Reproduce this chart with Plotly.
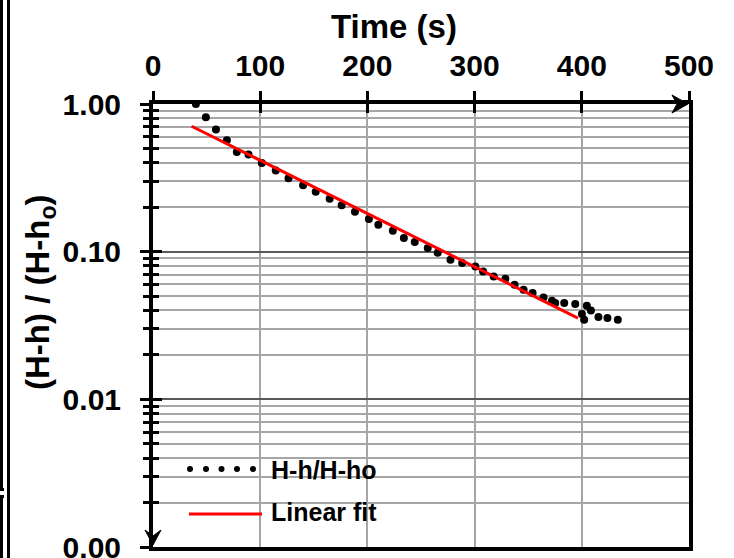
import plotly.graph_objects as go

# ---------------- data ----------------
time_s = [40, 49.3, 58.7, 68.9, 78.2, 89.1, 101.5, 114.5, 126.4, 140, 151.8,
          164.8, 176, 188.4, 201.4, 210.2, 223.7, 234, 244.2, 256.3, 265.6,
          277.5, 288.4, 300.7, 307.9, 317.8, 328.7, 337.3, 345.7, 354.1,
          364.3, 372.2, 375.2, 383.6, 393.9, 400.1, 402.2, 404.7, 408.5,
          415.5, 423.9, 433.6]
head_ratio = [1.0, 0.814, 0.672, 0.568, 0.474, 0.455, 0.399, 0.354, 0.314,
              0.2815, 0.255, 0.228, 0.206, 0.1867, 0.1666, 0.1524, 0.1388,
              0.1238, 0.1163, 0.106, 0.0985, 0.0883, 0.0838, 0.0795, 0.0735,
              0.068, 0.0656, 0.0597, 0.0553, 0.0525, 0.049, 0.0465, 0.0449,
              0.0449, 0.0442, 0.0378, 0.0346, 0.043, 0.04, 0.0361, 0.0355,
              0.0346]
fit_time = [36, 396.4]
fit_ratio = [0.707, 0.0355]

x_tickvals = [0, 100, 200, 300, 400, 500]
y_tickvals = [1, 0.1, 0.01, 0.001]
y_ticktext = ["1.00", "0.10", "0.01", "0.00"]
y_minorvals = [m * 10.0 ** e for e in (-3, -2, -1) for m in range(2, 10)]

series_name = "H-h/H-ho"
fit_name = "Linear fit"

# ---------------- geometry helpers ----------------
W, H = 734, 558
L, R, T, B = 153, 689, 104, 547
PW, PH = R - L, B - T


def px(x):
    return (x - L) / PW


def py(y):
    return (B - y) / PH


FONT = "Arial, Liberation Sans, sans-serif"

fig = go.Figure()

fig.add_trace(go.Scatter(
    x=time_s, y=head_ratio, mode="markers", name=series_name,
    marker=dict(color="black", size=8), showlegend=False,
))
fig.add_trace(go.Scatter(
    x=fit_time, y=fit_ratio, mode="lines", name=fit_name,
    line=dict(color="#ff0000", width=3), showlegend=False,
))
# empty trace to bring up the overlay axes (crossing ticks)
fig.add_trace(go.Scatter(x=[None], y=[None], xaxis="x2", yaxis="y2",
                         showlegend=False, hoverinfo="skip"))

common_x = dict(range=[0, 500], tickvals=x_tickvals, side="top",
                automargin=False)
common_y = dict(type="log", range=[-3, 0], tickvals=y_tickvals,
                automargin=False)

fig.update_layout(
    width=W, height=H,
    margin=dict(l=L, r=W - R, t=T, b=H - B, pad=0, autoexpand=False),
    paper_bgcolor="white", plot_bgcolor="white",
    font=dict(family=FONT, color="black"),
    xaxis=dict(
        **common_x,
        ticktext=[str(v) for v in x_tickvals],
        tickfont=dict(size=30, weight="bold", family=FONT),
        ticks="outside", ticklen=9, tickwidth=3, tickcolor="black",
        ticklabelstandoff=3, ticklabeloverflow="allow",
        showline=True, linewidth=4, linecolor="black", mirror=True,
        showgrid=True, gridcolor="#a6a6a6", gridwidth=2,
        zeroline=False,
    ),
    yaxis=dict(
        **common_y,
        ticktext=y_ticktext,
        tickfont=dict(size=30, weight="bold", family=FONT),
        ticks="outside", ticklen=9, tickwidth=3, tickcolor="black",
        ticklabelstandoff=13, ticklabeloverflow="allow",
        showline=True, linewidth=4, linecolor="black", mirror=True,
        showgrid=True, gridcolor="#595959", gridwidth=2,
        zeroline=False,
        minor=dict(tickvals=y_minorvals, ticks="outside", ticklen=6,
                   tickwidth=3, tickcolor="black",
                   showgrid=True, gridcolor="#a6a6a6", gridwidth=2),
    ),
    xaxis2=dict(
        **common_x, overlaying="x", anchor="y2",
        showticklabels=False, ticks="inside", ticklen=9, tickwidth=3,
        tickcolor="black", showgrid=False, showline=False, zeroline=False,
    ),
    yaxis2=dict(
        **common_y, overlaying="y", anchor="x2", side="left",
        showticklabels=False, ticks="inside", ticklen=9, tickwidth=3,
        tickcolor="black", showgrid=False, showline=False, zeroline=False,
        minor=dict(tickvals=y_minorvals, ticks="inside", ticklen=6,
                   tickwidth=3, tickcolor="black", showgrid=False),
    ),
)

shapes = []
# legend background
shapes.append(dict(type="rect", xref="paper", yref="paper",
                   x0=px(158), x1=px(397), y0=py(536), y1=py(446),
                   fillcolor="white", line=dict(width=0), layer="between"))
# legend symbols: dotted marker sample and red line sample
for cx in (190, 206, 221.5, 237, 253):
    shapes.append(dict(type="circle", xref="paper", yref="paper",
                       x0=px(cx - 3), x1=px(cx + 3), y0=py(472), y1=py(466),
                       fillcolor="black", line=dict(width=0)))
shapes.append(dict(type="line", xref="paper", yref="paper",
                   x0=px(189), x1=px(262), y0=py(514), y1=py(514),
                   line=dict(color="#ff0000", width=3)))


def to_path(points):
    return "M " + " L ".join(f"{px(a):.5f},{py(b):.5f}" for a, b in points) + " Z"


# arrowheads of the axes
shapes.append(dict(type="path", xref="paper", yref="paper",
                   path=to_path([(688, 104), (672, 95), (677, 104), (672, 113)]),
                   fillcolor="black", line=dict(color="black", width=1)))
shapes.append(dict(type="path", xref="paper", yref="paper",
                   path=to_path([(153, 545), (145, 530), (153, 536), (161, 530)]),
                   fillcolor="black", line=dict(color="black", width=1)))

# frame fragments on the left page edge
for (x0, x1, y0, y1) in [(0, 3, 0, 490), (0, 4, 488, 491), (0, 3, 496, 558),
                         (0, 4, 495, 498), (7, 10, 0, 558)]:
    shapes.append(dict(type="rect", xref="paper", yref="paper",
                       x0=px(x0), x1=px(x1), y0=py(y1), y1=py(y0),
                       fillcolor="black", line=dict(width=0)))

fig.update_layout(shapes=shapes)

annotations = [
    dict(text="Time (s)", xref="paper", yref="paper", x=px(394), y=py(27),
         showarrow=False, xanchor="center", yanchor="middle",
         font=dict(size=33, weight="bold", family=FONT, color="black")),
    dict(text="(H-h) / (H-h<sub>o</sub>)", xref="paper", yref="paper",
         x=px(40), y=py(292), textangle=-90, showarrow=False,
         xanchor="center", yanchor="middle",
         font=dict(size=33, weight="bold", family=FONT, color="black")),
    dict(text=series_name, xref="paper", yref="paper", x=px(269), y=py(470),
         showarrow=False, xanchor="left", yanchor="middle",
         font=dict(size=25, weight="bold", family=FONT, color="black")),
    dict(text=fit_name, xref="paper", yref="paper", x=px(269), y=py(512),
         showarrow=False, xanchor="left", yanchor="middle",
         font=dict(size=25, weight="bold", family=FONT, color="black")),
]
fig.update_layout(annotations=annotations)

fig.write_html(
    "out.html",
    config={"displayModeBar": False},
    post_script="document.body.style.margin='0px';"
                "document.body.style.overflow='hidden';",
)
